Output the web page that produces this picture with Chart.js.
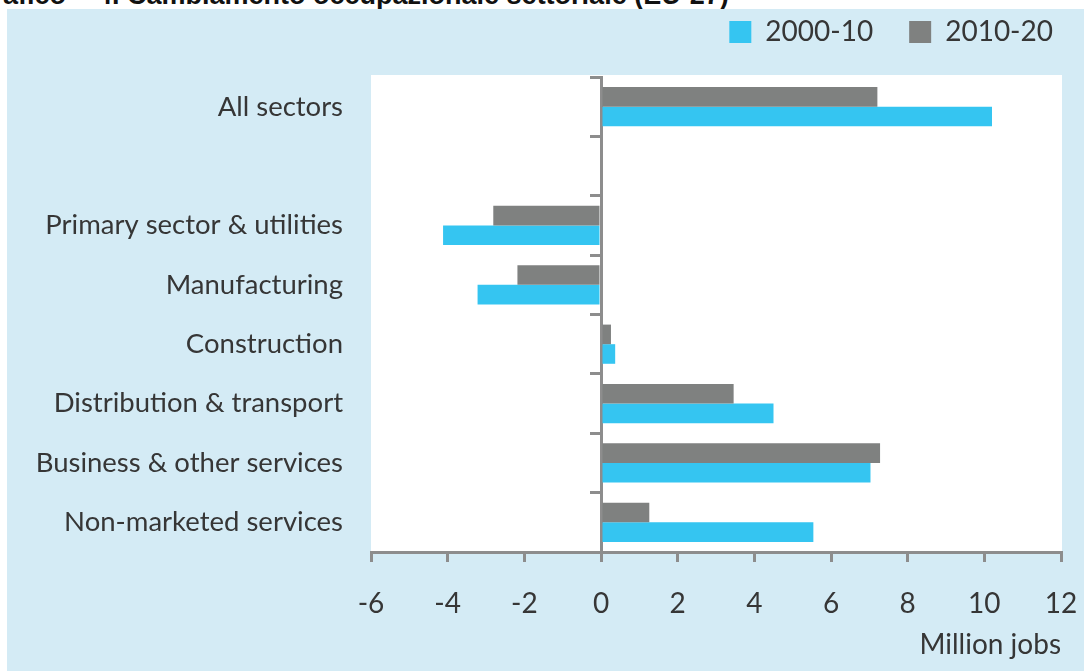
<!DOCTYPE html>
<html>
<head>
<meta charset="utf-8">
<script src="https://cdn.jsdelivr.net/npm/chart.js@4.4.1/dist/chart.umd.min.js"></script>
<style>
  body { margin: 0; background: #ffffff; width: 1084px; height: 671px; overflow: hidden; position: relative; }
  .title { position: absolute; top: -18px; font: bold 27px/27px "Liberation Sans", Arial, sans-serif; color: #111; white-space: nowrap; }
  #titleA { right: 1018px; }
  #titleB { left: 97px; }
  #panel { position: absolute; left: 7px; top: 9px; right: 0; bottom: 0; background: #d4ebf5; }
  #wrap { position: absolute; left: 0; top: 0; width: 1084px; height: 671px; }
</style>
</head>
<body>
<div class="title" id="titleA">Grafico</div>
<div class="title" id="titleB">4. Cambiamento occupazionale settoriale (EU-27)</div>
<div id="panel"></div>
<div id="wrap"><canvas id="chart"></canvas></div>
<script>
const sectors = ['All sectors', '', 'Primary sector & utilities', 'Manufacturing', 'Construction', 'Distribution & transport', 'Business & other services', 'Non-marketed services']
const change2000_10 = [10.2, null, -4.12, -3.22, 0.37, 4.5, 7.03, 5.54]
const change2010_20 = [7.21, null, -2.81, -2.18, 0.26, 3.46, 7.28, 1.26]
const xTicks = { min: -6, max: 12, step: 2 }

const axisGrey = '#8d8d8d'
const textColor = '#363636'
const fontFamily = 'Lato, "Open Sans", sans-serif'

let whiteArea = {
  id: 'whiteArea',
  beforeDraw(chart) {
    let a = chart.chartArea
    let ctx = chart.ctx
    ctx.save()
    ctx.fillStyle = '#ffffff'
    ctx.fillRect(a.left, a.top - 2, a.right - a.left + 1, a.bottom - a.top + 2)
    ctx.restore()
  }
}

// legend sits higher and further right than chart.js puts it
let legendSpace = {
  id: 'legendSpace',
  beforeInit(chart) {
    let fit = chart.legend.fit
    chart.legend.fit = function() {
      fit.bind(chart.legend)()
      this.height = 95
    }
  },
  afterLayout(chart) {
    chart.legend.left += 28
    chart.legend.right += 28
  }
}

let ctx = document.getElementById('chart')
let chart = new Chart(ctx, {
  type: 'bar',
  data: {
    labels: sectors,
    datasets: [
      {
        label: '2010-20',
        data: change2010_20,
        backgroundColor: '#7f8180',
        yAxisID: 'y'
      },
      {
        label: '2000-10',
        data: change2000_10,
        backgroundColor: '#35c5f1',
        yAxisID: 'y'
      }
    ]
  },
  options: {
    indexAxis: 'y',
    responsive: true,
    maintainAspectRatio: false,
    animation: false,
    categoryPercentage: 0.66,
    barPercentage: 1.0,
    layout: { padding: { left: 0, right: 23, top: -18, bottom: 0 } },
    plugins: {
      tooltip: { enabled: false },
      legend: {
        position: 'top',
        align: 'end',
        reverse: true,
        labels: {
          boxWidth: 22,
          boxHeight: 22,
          padding: 36,
          color: textColor,
          font: { family: fontFamily, size: 28 }
        }
      }
    },
    scales: {
      y: {
        type: 'category',
        position: 'left',
        offset: true,
        grid: { display: false, drawTicks: false },
        border: { display: false },
        ticks: {
          color: textColor,
          padding: 28,
          font: { family: fontFamily, size: 27.5 }
        },
        afterFit(scale) { scale.width = 371 }
      },
      y2: {
        type: 'category',
        axis: 'y',
        position: { x: 0 },
        offset: true,
        z: 1,
        grid: { offset: true, drawOnChartArea: false, drawTicks: true, tickLength: 10, color: axisGrey, lineWidth: 3 },
        border: { color: axisGrey, width: 3 },
        ticks: { display: false }
      },
      x: {
        type: 'linear',
        min: xTicks.min,
        max: xTicks.max,
        grid: { drawOnChartArea: false, drawTicks: true, tickLength: 10, color: axisGrey, lineWidth: 3 },
        border: { color: axisGrey, width: 3 },
        ticks: {
          stepSize: xTicks.step,
          color: textColor,
          padding: 25,
          font: { family: fontFamily, size: 28 }
        },
        title: {
          display: true,
          text: 'Million jobs',
          align: 'end',
          color: textColor,
          padding: { top: 0, bottom: 9 },
          font: { family: fontFamily, size: 28 }
        },
        afterFit(scale) {
          scale.height = 119
          scale.paddingLeft = 0
          scale.paddingRight = 0
        }
      }
    }
  },
  plugins: [whiteArea, legendSpace]
})
</script>
</body>
</html>
